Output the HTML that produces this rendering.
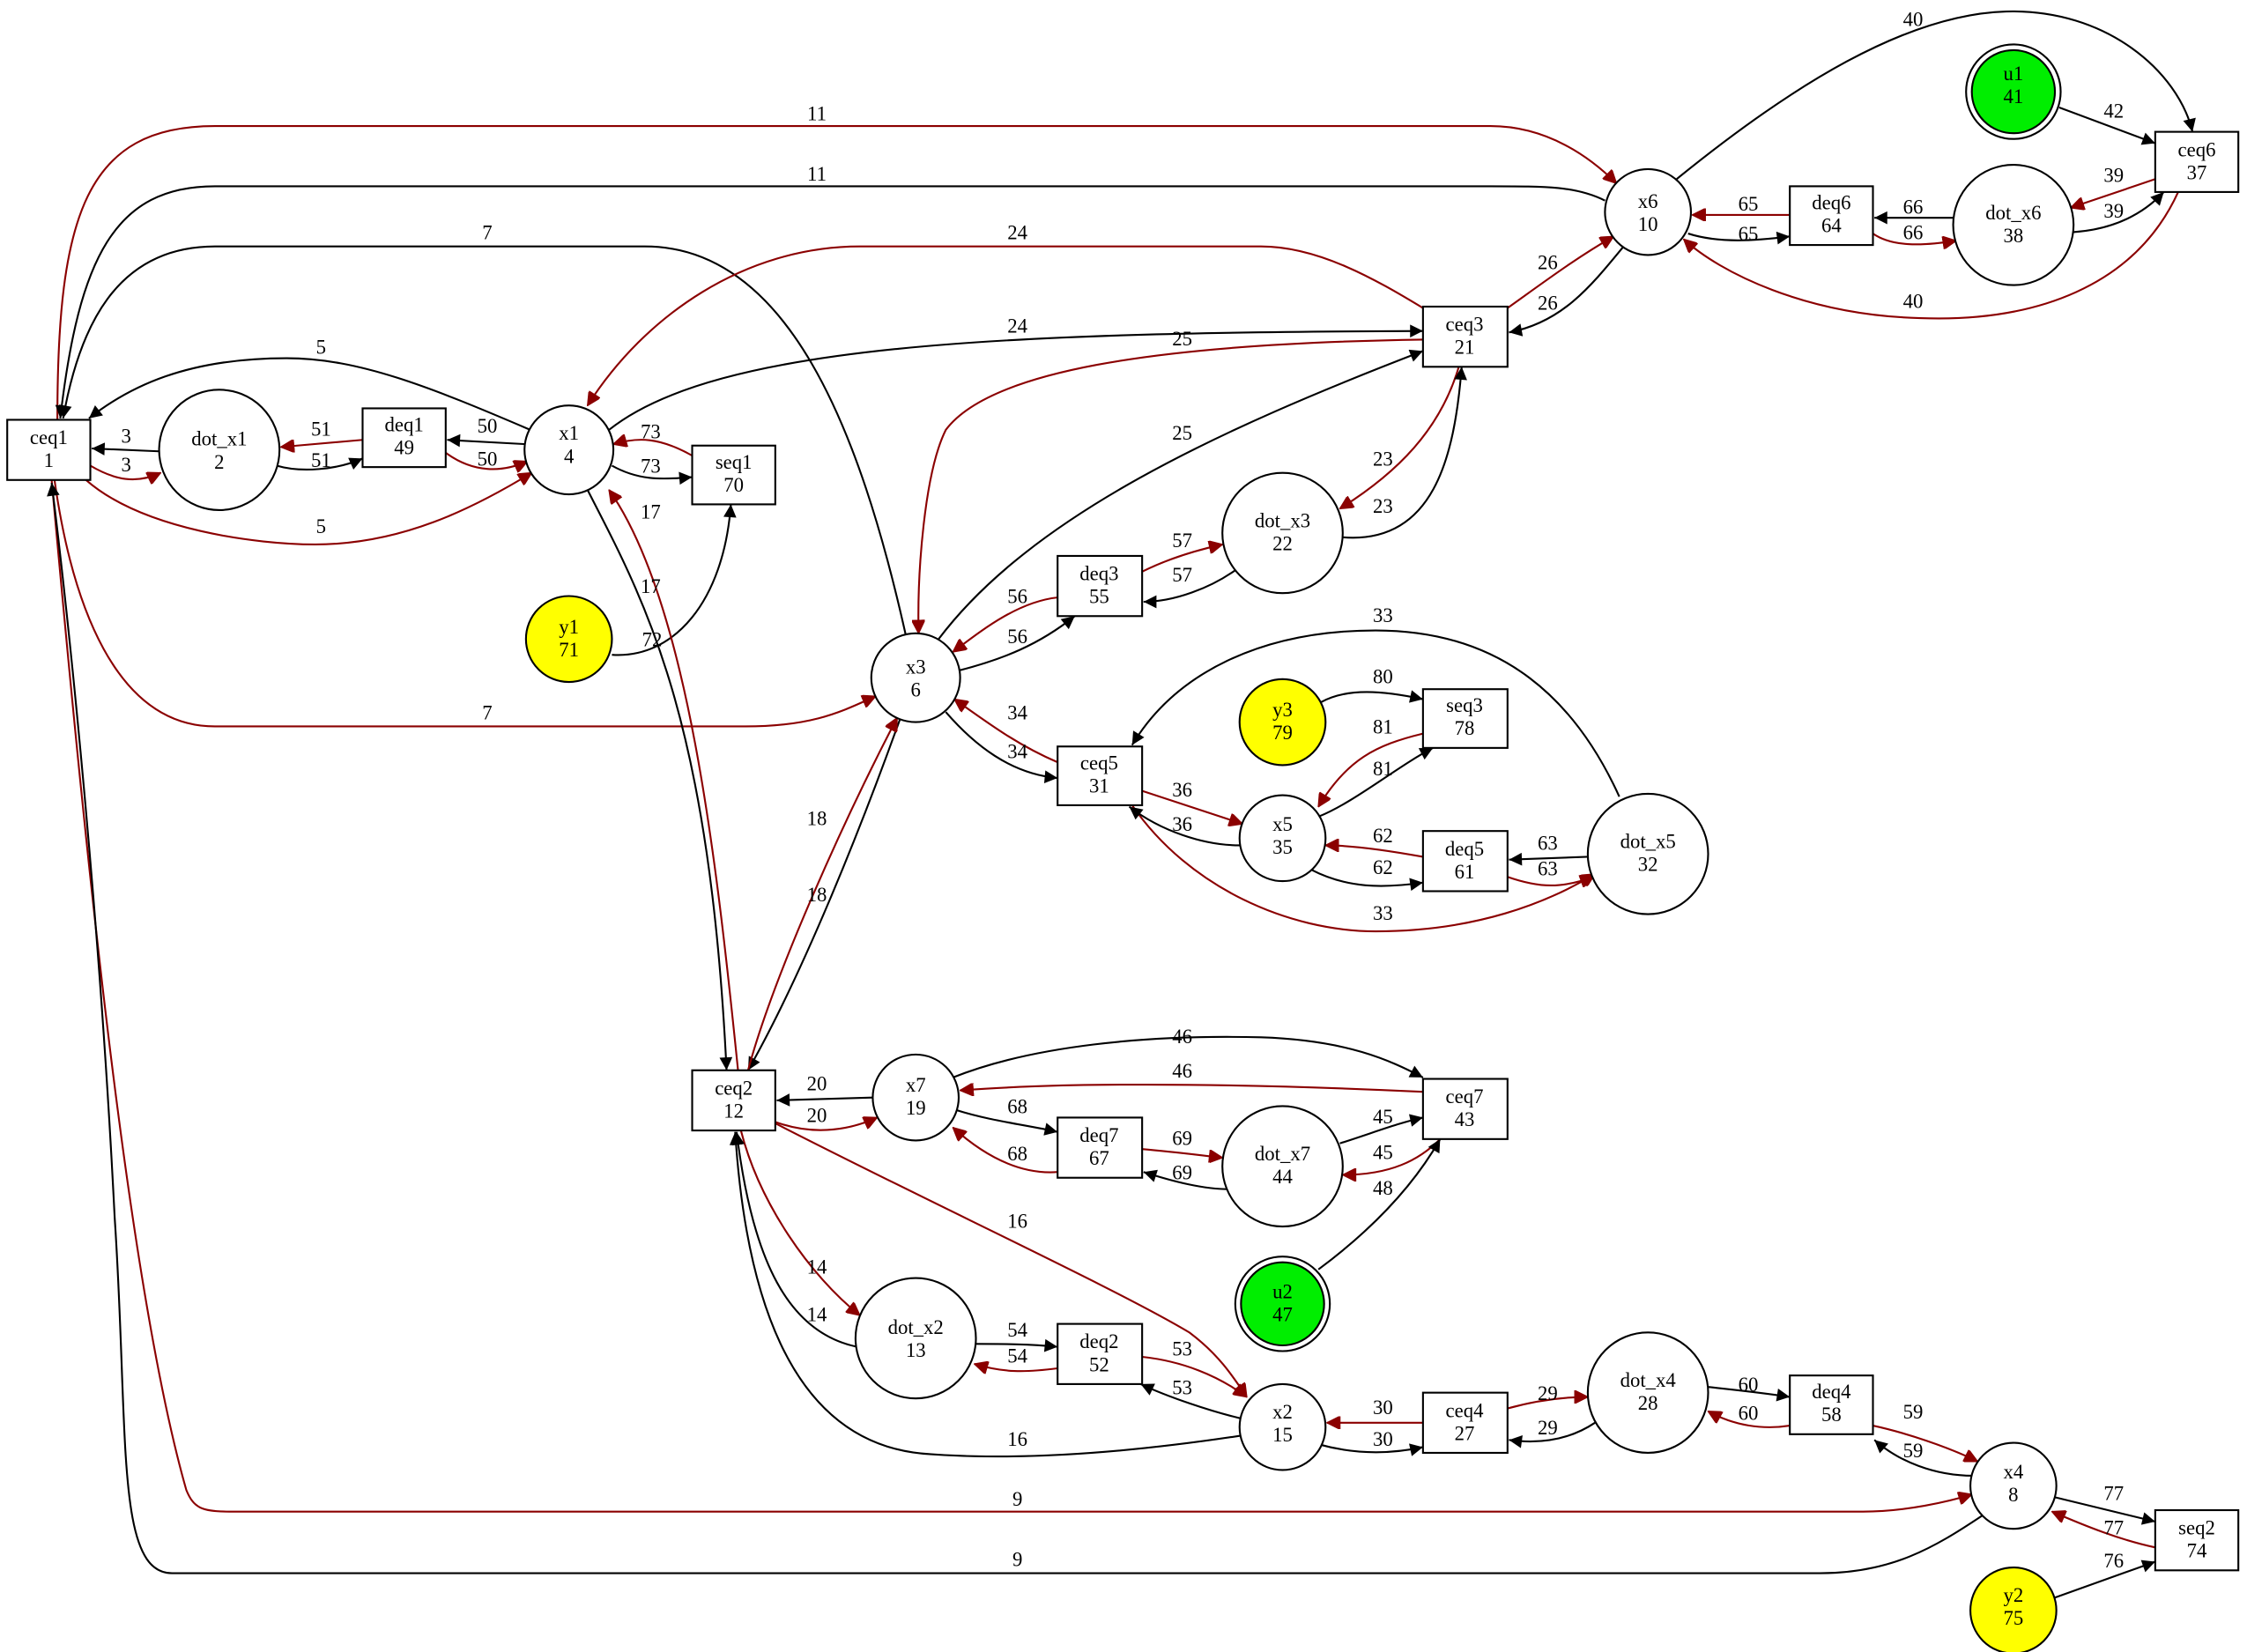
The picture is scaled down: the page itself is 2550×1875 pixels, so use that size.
<!DOCTYPE html>
<html><head><meta charset="utf-8"><style>
html,body{margin:0;padding:0;background:#fff;}
svg{display:block;}
text{font-family:"Liberation Serif",serif;font-size:14px;text-anchor:middle;}
.b{fill:none;stroke:#000;stroke-width:1.3;marker-end:url(#ab);}
.r{fill:none;stroke:#8b0000;stroke-width:1.3;marker-end:url(#ar);}
.n{fill:#fff;stroke:#000;stroke-width:1.3;}
</style></head><body>
<svg width="2550" height="1875" viewBox="0 0 1568 1153" xmlns="http://www.w3.org/2000/svg">
<defs>
<marker id="ab" viewBox="0 0 10 10" refX="10" refY="5" markerWidth="10" markerHeight="9" markerUnits="userSpaceOnUse" orient="auto"><path d="M0,0 L10,5 L0,10 z" fill="#000"/></marker>
<marker id="ar" viewBox="0 0 10 10" refX="10" refY="5" markerWidth="10" markerHeight="9" markerUnits="userSpaceOnUse" orient="auto"><path d="M0,0 L10,5 L0,10 z" fill="#8b0000" stroke="#8b0000"/></marker>
</defs>
<rect width="1568" height="1153" fill="#fff"/>
<g>
<path class="r" d="M40,293 C40,150 60,88 150,88 L1040,88 C1080,88 1110,110 1128,128"/>
<path class="b" d="M1120,140 C1100,130 1080,130 1040,130 L150,130 C80,130 55,180 42,292"/>
<path class="b" d="M632,443 C600,300 550,172 450,172 L150,172 C80,172 55,230 44,292"/>
<path class="r" d="M38,335 C50,420 80,507 150,507 L520,507 C570,507 590,495 611,486"/>
<path class="b" d="M370,300 C300,270 250,250 200,250 C130,250 90,270 62,292"/>
<path class="r" d="M60,335 C100,370 180,380 220,380 C280,380 330,355 371,330"/>
<path class="b" d="M111,315 L64,313"/>
<path class="r" d="M63,325 C80,335 95,338 112,330"/>
<path class="r" d="M253,307 L196,312"/>
<path class="b" d="M193,325 C210,330 235,328 253,320"/>
<path class="b" d="M367,310 L312,307"/>
<path class="r" d="M311,316 C330,330 350,330 368,322"/>
<path class="r" d="M483,318 C460,305 445,305 428,310"/>
<path class="b" d="M427,325 C445,335 460,335 483,333"/>
<path class="b" d="M427,457 C470,460 505,420 510,352"/>
<path class="b" d="M410,342 C450,420 495,500 507,747"/>
<path class="r" d="M515,747 C500,600 480,420 425,342"/>
<path class="b" d="M425,300 C500,240 700,232 993,231"/>
<path class="r" d="M993,215 C960,195 920,172 880,172 L600,172 C520,172 450,220 410,283"/>
<path class="r" d="M993,237 C800,240 690,260 660,300 C645,330 640,400 641,442"/>
<path class="b" d="M655,446 C720,360 850,300 993,245"/>
<path class="r" d="M1018,256 C1005,300 975,330 935,355"/>
<path class="b" d="M937,375 C1000,380 1015,320 1020,256"/>
<path class="r" d="M1052,215 C1080,195 1100,180 1126,165"/>
<path class="b" d="M1133,172 C1110,200 1090,225 1053,232"/>
<path class="b" d="M1170,125 C1250,60 1330,10 1400,8 C1470,6 1520,50 1530,92"/>
<path class="r" d="M1520,134 C1490,200 1420,225 1340,222 C1260,220 1200,190 1175,167"/>
<path class="b" d="M1437,75 L1504,100"/>
<path class="r" d="M1504,125 L1445,145"/>
<path class="b" d="M1447,162 C1475,160 1495,150 1510,134"/>
<path class="b" d="M1363,152 L1308,152"/>
<path class="r" d="M1307,163 C1320,172 1340,172 1365,168"/>
<path class="r" d="M1249,150 L1181,150"/>
<path class="b" d="M1178,163 C1200,170 1225,168 1249,165"/>
<path class="r" d="M738,417 C710,420 685,440 665,455"/>
<path class="b" d="M669,468 C700,460 725,450 750,430"/>
<path class="r" d="M797,399 C815,390 835,384 853,380"/>
<path class="b" d="M862,398 C845,410 820,420 798,420"/>
<path class="r" d="M738,532 C710,520 690,505 666,488"/>
<path class="b" d="M660,497 C680,520 705,540 738,543"/>
<path class="b" d="M628,502 C600,580 560,680 522,747"/>
<path class="r" d="M522,747 C540,680 590,570 626,501"/>
<path class="b" d="M1130,556 C1100,490 1050,440 960,440 C880,440 820,470 790,520"/>
<path class="r" d="M790,562 C830,620 900,650 960,650 C1030,650 1080,630 1113,610"/>
<path class="b" d="M922,490 C940,480 965,482 993,488"/>
<path class="r" d="M993,512 C960,520 940,530 920,563"/>
<path class="b" d="M920,570 C945,560 975,535 1000,522"/>
<path class="r" d="M797,552 L867,575"/>
<path class="b" d="M865,590 C840,590 810,580 788,563"/>
<path class="r" d="M993,598 C960,592 940,590 925,590"/>
<path class="b" d="M915,607 C940,620 965,620 993,616"/>
<path class="b" d="M1108,598 L1053,600"/>
<path class="r" d="M1052,612 C1075,620 1090,620 1112,612"/>
<path class="b" d="M609,766 L542,768"/>
<path class="r" d="M541,783 C565,792 590,790 612,780"/>
<path class="b" d="M665,752 C720,730 800,722 880,724 C940,726 970,740 993,752"/>
<path class="r" d="M993,762 C950,760 880,757 800,757 C730,757 700,759 670,761"/>
<path class="b" d="M668,775 C690,782 715,785 738,790"/>
<path class="r" d="M738,818 C710,820 685,805 665,787"/>
<path class="r" d="M797,802 C820,804 835,806 853,808"/>
<path class="b" d="M858,830 C840,830 820,825 798,818"/>
<path class="b" d="M935,798 C960,790 975,784 993,780"/>
<path class="r" d="M1005,795 C990,810 970,820 937,820"/>
<path class="b" d="M920,886 C955,860 985,830 1005,795"/>
<path class="r" d="M517,789 C530,840 565,890 600,918"/>
<path class="b" d="M598,940 C550,930 525,880 514,790"/>
<path class="r" d="M541,784 C650,840 780,900 830,930 C850,945 860,960 870,975"/>
<path class="b" d="M866,1002 C800,1012 720,1020 650,1015 C550,1010 520,900 513,790"/>
<path class="b" d="M681,938 C700,938 718,938 738,940"/>
<path class="r" d="M738,955 C715,958 700,958 680,952"/>
<path class="r" d="M797,947 C825,950 850,960 870,975"/>
<path class="b" d="M866,990 C845,985 815,975 796,966"/>
<path class="r" d="M993,993 L926,993"/>
<path class="b" d="M920,1008 C945,1015 970,1015 993,1010"/>
<path class="r" d="M1052,983 C1070,978 1090,975 1108,975"/>
<path class="b" d="M1113,993 C1095,1005 1075,1008 1053,1005"/>
<path class="b" d="M1192,968 C1210,970 1230,972 1249,975"/>
<path class="r" d="M1249,995 C1230,998 1210,995 1192,985"/>
<path class="r" d="M1307,995 C1330,1000 1360,1010 1380,1020"/>
<path class="b" d="M1377,1030 C1350,1030 1325,1020 1308,1005"/>
<path class="b" d="M1434,1045 L1504,1062"/>
<path class="r" d="M1504,1080 C1480,1075 1455,1065 1432,1055"/>
<path class="b" d="M1434,1115 L1504,1090"/>
<path class="r" d="M36,335 C60,600 90,900 130,1040 C135,1052 140,1055 160,1055 L1300,1055 C1330,1055 1360,1048 1376,1043"/>
<path class="b" d="M1383,1058 C1350,1080 1320,1098 1270,1098 L120,1098 C80,1098 90,1000 80,850 C70,650 50,450 36,337"/>
</g>
<g>
<text x="570" y="84">11</text><text x="570" y="126">11</text><text x="340" y="167">7</text><text x="340" y="502">7</text>
<text x="224" y="247">5</text><text x="224" y="372">5</text><text x="88" y="309">3</text><text x="88" y="329">3</text>
<text x="224" y="304">51</text><text x="224" y="326">51</text><text x="340" y="302">50</text><text x="340" y="325">50</text>
<text x="454" y="306">73</text><text x="454" y="330">73</text><text x="455" y="451">72</text>
<text x="454" y="414">17</text><text x="454" y="362">17</text><text x="710" y="232">24</text><text x="710" y="167">24</text>
<text x="825" y="241">25</text><text x="825" y="307">25</text><text x="965" y="325">23</text><text x="965" y="358">23</text>
<text x="1080" y="188">26</text><text x="1080" y="216">26</text><text x="1335" y="18">40</text><text x="1335" y="215">40</text>
<text x="1475" y="82">42</text><text x="1475" y="127">39</text><text x="1475" y="152">39</text>
<text x="1335" y="149">66</text><text x="1335" y="167">66</text><text x="1220" y="147">65</text><text x="1220" y="168">65</text>
<text x="710" y="421">56</text><text x="710" y="449">56</text><text x="825" y="382">57</text><text x="825" y="406">57</text>
<text x="710" y="502">34</text><text x="710" y="529">34</text><text x="570" y="629">18</text><text x="570" y="576">18</text>
<text x="965" y="434">33</text><text x="965" y="642">33</text><text x="965" y="477">80</text><text x="965" y="512">81</text><text x="965" y="541">81</text>
<text x="825" y="556">36</text><text x="825" y="580">36</text><text x="965" y="588">62</text><text x="965" y="610">62</text>
<text x="1080" y="593">63</text><text x="1080" y="611">63</text><text x="570" y="761">20</text><text x="570" y="783">20</text>
<text x="825" y="728">46</text><text x="825" y="752">46</text><text x="710" y="777">68</text><text x="710" y="810">68</text>
<text x="825" y="799">69</text><text x="825" y="823">69</text><text x="965" y="784">45</text><text x="965" y="809">45</text><text x="965" y="834">48</text>
<text x="570" y="889">14</text><text x="570" y="922">14</text><text x="710" y="857">16</text><text x="710" y="1009">16</text>
<text x="710" y="933">54</text><text x="710" y="951">54</text><text x="825" y="946">53</text><text x="825" y="973">53</text>
<text x="965" y="987">30</text><text x="965" y="1009">30</text><text x="1080" y="977">29</text><text x="1080" y="1001">29</text>
<text x="1220" y="971">60</text><text x="1220" y="991">60</text><text x="1335" y="990">59</text><text x="1335" y="1017">59</text>
<text x="1475" y="1047">77</text><text x="1475" y="1071">77</text><text x="1475" y="1094">76</text>
<text x="710" y="1051">9</text><text x="710" y="1093">9</text>
</g>
<g>
<rect class="n" x="5" y="293" width="58" height="42"/><text x="34" y="310">ceq1</text><text x="34" y="326">1</text>
<circle class="n" cx="153" cy="314" r="42"/><text x="153" y="311">dot_x1</text><text x="153" y="327">2</text>
<rect class="n" x="253" y="285" width="58" height="41"/><text x="282" y="301">deq1</text><text x="282" y="317">49</text>
<circle class="n" cx="397" cy="314" r="31"/><text x="397" y="307">x1</text><text x="397" y="323">4</text>
<rect class="n" x="483" y="311" width="58" height="41"/><text x="512" y="327">seq1</text><text x="512" y="343">70</text>
<circle class="n" cx="397" cy="446" r="30" style="fill:#ffff00"/><text x="397" y="442">y1</text><text x="397" y="458">71</text>
<circle class="n" cx="639" cy="473" r="31"/><text x="639" y="470">x3</text><text x="639" y="486">6</text>
<rect class="n" x="738" y="388" width="59" height="42"/><text x="767" y="405">deq3</text><text x="767" y="421">55</text>
<circle class="n" cx="895" cy="372" r="42"/><text x="895" y="368">dot_x3</text><text x="895" y="384">22</text>
<rect class="n" x="993" y="214" width="59" height="42"/><text x="1022" y="231">ceq3</text><text x="1022" y="247">21</text>
<circle class="n" cx="1150" cy="148" r="30"/><text x="1150" y="145">x6</text><text x="1150" y="161">10</text>
<rect class="n" x="1249" y="130" width="58" height="41"/><text x="1278" y="146">deq6</text><text x="1278" y="162">64</text>
<circle class="n" cx="1405" cy="157" r="42"/><text x="1405" y="153">dot_x6</text><text x="1405" y="169">38</text>
<rect class="n" x="1504" y="92" width="58" height="42"/><text x="1533" y="109">ceq6</text><text x="1533" y="125">37</text>
<circle class="n" cx="1405" cy="64" r="33"/><circle class="n" cx="1405" cy="64" r="29" style="fill:#00ee00"/><text x="1405" y="56">u1</text><text x="1405" y="72">41</text>
<circle class="n" cx="895" cy="504" r="30" style="fill:#ffff00"/><text x="895" y="500">y3</text><text x="895" y="516">79</text>
<rect class="n" x="993" y="481" width="59" height="41"/><text x="1022" y="497">seq3</text><text x="1022" y="513">78</text>
<rect class="n" x="738" y="521" width="59" height="41"/><text x="767" y="537">ceq5</text><text x="767" y="553">31</text>
<circle class="n" cx="895" cy="585" r="30"/><text x="895" y="580">x5</text><text x="895" y="596">35</text>
<rect class="n" x="993" y="580" width="59" height="42"/><text x="1022" y="597">deq5</text><text x="1022" y="613">61</text>
<circle class="n" cx="1150" cy="596" r="42"/><text x="1150" y="592">dot_x5</text><text x="1150" y="608">32</text>
<rect class="n" x="483" y="747" width="58" height="42"/><text x="512" y="764">ceq2</text><text x="512" y="780">12</text>
<circle class="n" cx="639" cy="766" r="30"/><text x="639" y="762">x7</text><text x="639" y="778">19</text>
<rect class="n" x="993" y="753" width="59" height="42"/><text x="1022" y="770">ceq7</text><text x="1022" y="786">43</text>
<rect class="n" x="738" y="780" width="59" height="42"/><text x="767" y="797">deq7</text><text x="767" y="813">67</text>
<circle class="n" cx="895" cy="814" r="42"/><text x="895" y="810">dot_x7</text><text x="895" y="826">44</text>
<circle class="n" cx="895" cy="910" r="33"/><circle class="n" cx="895" cy="910" r="29" style="fill:#00ee00"/><text x="895" y="906">u2</text><text x="895" y="922">47</text>
<circle class="n" cx="639" cy="934" r="42"/><text x="639" y="931">dot_x2</text><text x="639" y="947">13</text>
<rect class="n" x="738" y="924" width="59" height="42"/><text x="767" y="941">deq2</text><text x="767" y="957">52</text>
<circle class="n" cx="895" cy="996" r="30"/><text x="895" y="990">x2</text><text x="895" y="1006">15</text>
<rect class="n" x="993" y="972" width="59" height="42"/><text x="1022" y="989">ceq4</text><text x="1022" y="1005">27</text>
<circle class="n" cx="1150" cy="972" r="42"/><text x="1150" y="968">dot_x4</text><text x="1150" y="984">28</text>
<rect class="n" x="1249" y="960" width="58" height="41"/><text x="1278" y="976">deq4</text><text x="1278" y="992">58</text>
<circle class="n" cx="1405" cy="1037" r="30"/><text x="1405" y="1032">x4</text><text x="1405" y="1048">8</text>
<rect class="n" x="1504" y="1054" width="58" height="42"/><text x="1533" y="1071">seq2</text><text x="1533" y="1087">74</text>
<circle class="n" cx="1405" cy="1124" r="30" style="fill:#ffff00"/><text x="1405" y="1118">y2</text><text x="1405" y="1134">75</text>
</g>
</svg>
</body></html>
